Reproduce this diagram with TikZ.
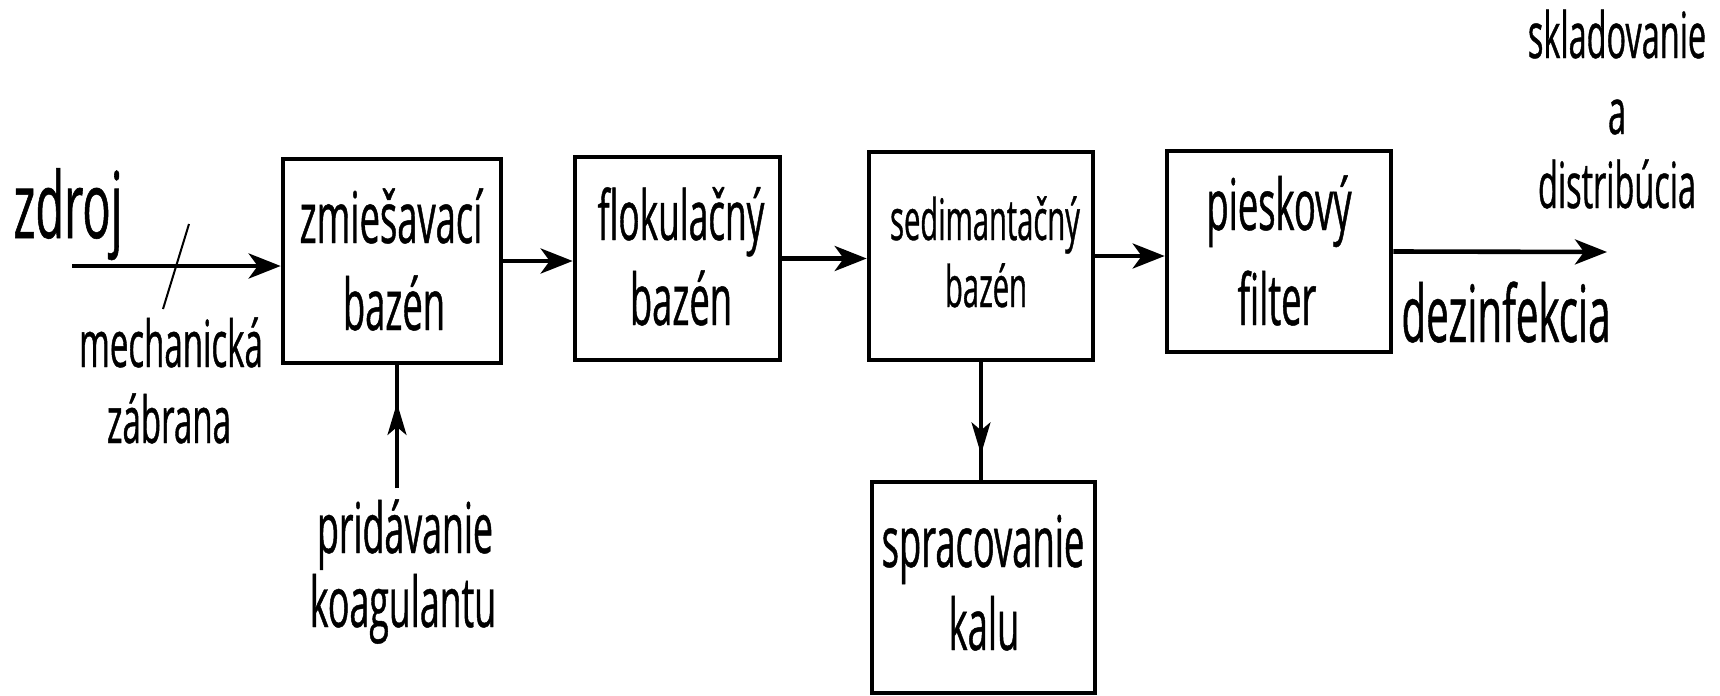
\documentclass[tikz,border=0pt]{standalone}
\usepackage{fontspec}
\setmainfont{Open Sans}[FakeStretch=0.51,FakeBold=0.6]
\usetikzlibrary{arrows.meta}
\tikzset{
  box/.style={draw=black, line width=2.3pt, rectangle, inner sep=0pt},
  lbl/.style={anchor=base, inner sep=0pt},
  fa/.style={font=\fontsize{35.6}{43}\selectfont},
  fb/.style={font=\fontsize{32.4}{39}\selectfont},
  fc/.style={font=\fontsize{28.6}{34}\selectfont},
  fd/.style={font=\fontsize{31.8}{38}\selectfont},
  flow/.style={line width=2.3pt, -{Stealth[length=16pt,width=12.5pt,inset=4.5pt]}},
  thinline/.style={line width=1.6pt},
  thinarrow/.style={line width=1.6pt, -{Stealth[length=16pt,width=9.5pt,inset=4pt]}},
}
\begin{document}
\begin{tikzpicture}[x=0.5pt,y=-0.5pt]
\fill[white] (0,0) rectangle (1720,696);
\useasboundingbox (0,0) rectangle (1720,696);
% boxes
\node[box, minimum width=109pt, minimum height=102pt] (B1) at (392,261) {};
\node[box, minimum width=102.5pt, minimum height=101.5pt] (B2) at (677.5,258.5) {};
\node[box, minimum width=112pt, minimum height=104pt] (B3) at (981,256) {};
\node[box, minimum width=112pt, minimum height=100.5pt] (B4) at (1279,251.5) {};
\node[box, minimum width=111.5pt, minimum height=105.5pt] (B5) at (983.5,587.5) {};
% box texts
\node[lbl,fa] (t1a) at (391,243) {zmiešavací};
\node[lbl,fa] (t1b) at (394,330) {bazén};
\node[lbl,font=\fontsize{34.5}{41}\selectfont] (t2a) at (681,240) {flokulačný};
\node[lbl,fa] (t2b) at (681,325) {bazén};
\node[lbl,fc] (t3a) at (985,240) {sedimantačný};
\node[lbl,fc] (t3b) at (986,307) {bazén};
\node[lbl,fa] (t4a) at (1279,230) {pieskový};
\node[lbl,fa] (t4b) at (1277,325) {filter};
\node[lbl,fa] (t5a) at (983,567) {spracovanie};
\node[lbl,fa] (t5b) at (984,650) {kalu};
% outside labels
\node[lbl,font=\fontsize{46}{55}\selectfont] (zdroj) at (68,238) {zdroj};
\node[lbl,fb] (mech1) at (171,367) {mechanická};
\node[lbl,fb] (mech2) at (169,443) {zábrana};
\node[lbl,font=\fontsize{35}{42}\selectfont] (prid1) at (405,553) {pridávanie};
\node[lbl,font=\fontsize{35}{42}\selectfont] (prid2) at (403,627) {koagulantu};
\node[lbl,font=\fontsize{39.5}{47}\selectfont] (dez) at (1506,342) {dezinfekcia};
\node[lbl,fd] (skl1) at (1617,58) {skladovanie};
\node[lbl,fd] (skl2) at (1617,134) {a};
\node[lbl,fd] (skl3) at (1617,208) {distribúcia};
% main flow
\coordinate (src) at (72,266);
\coordinate (dst) at (1607,252);
\draw[flow] (src) -- (src -| B1.west);
\draw[flow] (B1.east) -- (B1.east -| B2.west);
\draw[flow] (B2.east) -- (B2.east -| B3.west);
\draw[flow] (B3.east) -- (B3.east -| B4.west);
\draw[flow] (B4.east) -- (dst);
% mechanical barrier slash
\coordinate (s1) at (189,224);
\coordinate (s2) at (163,309);
\draw[line width=1pt] (s1) -- (s2);
% coagulant input
\coordinate (kog) at (397,488);
\draw[thinline] (kog) -- (kog |- B1.south);
\draw[thinarrow] (kog) -- ++(0,-85);
% sludge output
\draw[thinline] (B3.south) -- (B3.south |- B5.north);
\draw[thinarrow] (B3.south) -- ++(0,92);
\end{tikzpicture}
\end{document}
